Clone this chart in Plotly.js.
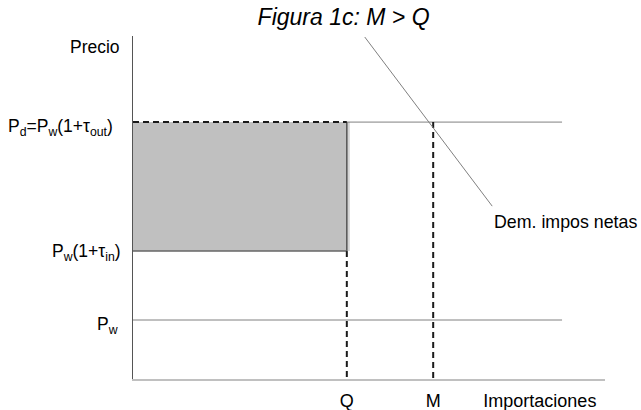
<!DOCTYPE html>
<html>
<head>
<meta charset="utf-8">
<script src="https://cdn.plot.ly/plotly-3.0.1.min.js"></script>
<style>html,body{margin:0;padding:0;background:#fff;}#chart{width:641px;height:410px;}</style>
</head>
<body>
<div id="chart"></div>
<script>
// Quantities (x, 0..100 scale) and prices (y, 0..100 scale)
const Q = 45.3;
const M = 63.6;
const xEnd = 90.9;
const Pd = 74.9;
const Ptin = 37.3;
const Pw = 17.2;
const demandX = [49.1, 76.1];
const demandY = [99.7, 50.4];
const xTickVals = [Q, M, 86.2];
const xTickText = ['Q', 'M', 'Importaciones'];
const yLabelVals = [96.8, Pd, Ptin, Pw];
const yLabelText = ['Precio', 'P<sub>d</sub>=P<sub>w</sub>(1+τ<sub>out</sub>)', 'P<sub>w</sub>(1+τ<sub>in</sub>)', 'P<sub>w</sub>'];
const yLabelShift = [-11, -18, -10, -13];
const yLabelVShift = [0, -5, -1, -5];
const demandLabel = 'Dem. impos netas';
const demandLabelPos = [76.0, 45.8];

const font = 'Liberation Sans, Arial, sans-serif';
const gray = '#808080';
const dashStyle = {color: '#1a1a1a', width: 2, dash: '6px,4px'};

const traces = [
  // shadow of the rectangle
  {x: [Q, Q], y: [Ptin, Pd], mode: 'lines', line: {color: '#d4d4d4', width: 6}},
  // shaded rectangle
  {x: [0, Q, Q, 0, 0], y: [Ptin, Ptin, Pd, Pd, Ptin], mode: 'lines', fill: 'toself',
   fillcolor: '#c0c0c0', line: {width: 0, color: 'rgba(0,0,0,0)'}},
  // right edge of rectangle
  {x: [Q, Q], y: [Ptin, Pd], mode: 'lines', line: {color: '#555', width: 1.5}},
  // bottom edge (Pw(1+tin))
  {x: [0, Q], y: [Ptin, Ptin], mode: 'lines', line: {color: '#666', width: 1.5}},
  // Pd line beyond Q
  {x: [Q, xEnd], y: [Pd, Pd], mode: 'lines', line: {color: gray, width: 1}},
  // Pw line
  {x: [0, xEnd], y: [Pw, Pw], mode: 'lines', line: {color: gray, width: 1}},
  // dashed top of rectangle
  {x: [0, Q], y: [Pd, Pd], mode: 'lines', line: dashStyle},
  // dashed Q drop
  {x: [Q, Q], y: [Ptin, 0], mode: 'lines', line: dashStyle},
  // dashed M drop
  {x: [M, M], y: [Pd, 0], mode: 'lines', line: dashStyle},
  // demand curve
  {x: demandX, y: demandY, mode: 'lines', line: {color: gray, width: 1}}
];
traces.forEach(t => { t.type = 'scatter'; t.hoverinfo = 'skip'; t.showlegend = false; t.cliponaxis = false; });

const annotations = yLabelVals.map((v, i) => ({
  xref: 'paper', yref: 'y', x: 0, y: v, xanchor: 'right', yanchor: 'middle',
  xshift: yLabelShift[i], yshift: yLabelVShift[i], text: yLabelText[i], showarrow: false,
  font: {family: font, size: 17.5, color: '#000'}
}));
annotations.push({
  xref: 'x', yref: 'y', x: demandLabelPos[0], y: demandLabelPos[1], xanchor: 'left', yanchor: 'middle',
  text: demandLabel, showarrow: false, font: {family: font, size: 17.8, color: '#000'}
});

const layout = {
  width: 641, height: 410,
  margin: {l: 133, r: 36, t: 36, b: 31, pad: 0},
  paper_bgcolor: '#fff', plot_bgcolor: '#fff',
  showlegend: false,
  title: {text: 'Figura 1c: M &gt; Q', xref: 'container', yref: 'container', x: 0.536, y: 0.958,
          xanchor: 'center', yanchor: 'middle', font: {family: font, size: 23, color: '#000', style: 'italic'}},
  xaxis: {range: [0, 100], showgrid: false, zeroline: false, showline: true, linecolor: '#c0c0c0', linewidth: 2,
          ticks: '', tickvals: xTickVals, ticktext: xTickText, ticklabelstandoff: 4,
          tickfont: {family: font, size: 18, color: '#000'}, fixedrange: true},
  yaxis: {range: [0, 100], showgrid: false, zeroline: false, showline: true, linecolor: '#555', linewidth: 1.5,
          ticks: '', showticklabels: false, fixedrange: true},
  annotations: annotations
};

Plotly.newPlot('chart', traces, layout, {displayModeBar: false, staticPlot: true});
</script>
</body>
</html>
